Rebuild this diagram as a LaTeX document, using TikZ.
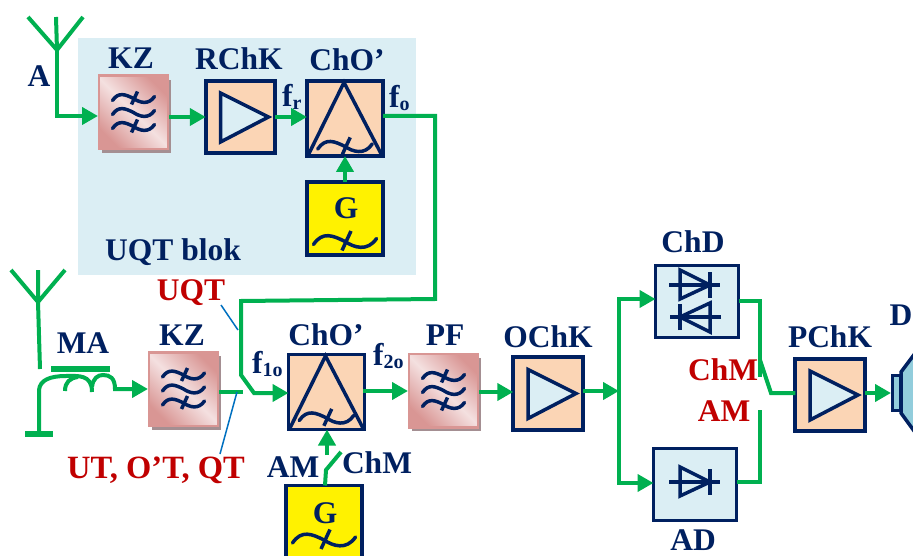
\documentclass[tikz,border=0pt]{standalone}
\usepackage{fontspec}
\setmainfont{Liberation Serif}
\usetikzlibrary{arrows.meta}
\definecolor{navy}{HTML}{002060}
\definecolor{wiregreen}{HTML}{00B050}
\definecolor{paleblue}{HTML}{DBEEF4}
\definecolor{peach}{HTML}{FBD5B5}
\definecolor{rose}{HTML}{D99694}
\definecolor{rosepale}{HTML}{F4E0E0}
\definecolor{shadegrey}{HTML}{A48F92}
\definecolor{redlbl}{HTML}{C00000}
\definecolor{leadblue}{HTML}{0070C0}
\definecolor{cone}{HTML}{92CDDC}

\newcommand{\wavesym}[3]{%
  \begin{scope}[shift={(#1)},shift={(0,#2)},scale=#3]
    \draw[symb, line cap=round] (-21,2) .. controls (-15,-7) and (-8,-4) .. (0,0) .. controls (6,4) and (15,7) .. (21,-2);
  \end{scope}}
\newcommand{\tickwave}[3]{%
  \wavesym{#1}{#2}{#3}
  \begin{scope}[shift={(#1)},shift={(0,#2)},scale=#3]
    \draw[symb] (4,-7) -- (-2,6);
  \end{scope}}
\newcommand{\ampsym}[1]{\draw[symb, fill=paleblue] ([shift={(-20,-24)}]#1.center) -- ([shift={(-20,25)}]#1.center) -- ([shift={(28,0)}]#1.center) -- cycle;}
\newcommand{\mixsym}[1]{\draw[symb] ([shift={(-37,37)}]#1.center) -- ([shift={(-1,-36)}]#1.center) -- ([shift={(37,37)}]#1.center);}
\newcommand{\filtersym}[1]{%
  \tickwave{#1}{-14}{1}
  \wavesym{#1}{0}{1}
  \tickwave{#1}{14}{1}}
\newcommand{\diodesym}[3]{%
  \begin{scope}[shift={(#1,#2)},rotate=#3]
    \draw[symb] (-26,0) -- (25,0);
    \draw[symb] (-15,-15) -- (-15,14) -- (15,0) -- cycle;
    \draw[symb] (15,-13) -- (15,13);
  \end{scope}}

\begin{document}
\begin{tikzpicture}[x=1pt, y=-1pt,
    symb/.style={draw=navy, line width=3.5pt},
    box/.style={draw=navy, line width=3.7pt, outer sep=0pt, inner sep=0pt, minimum width=69.5pt, minimum height=72.5pt},
    amp/.style={box, fill=peach},
    mix/.style={box, fill=peach, minimum width=76pt, minimum height=75pt},
    gen/.style={box, fill=yellow, minimum width=76pt, minimum height=73pt},
    det/.style={box, fill=paleblue, minimum width=83pt, minimum height=72pt},
    kz/.style={draw=rose, line width=2.5pt, outer sep=1pt, minimum width=69pt, minimum height=73.5pt, inner sep=0pt,
        preaction={fill=shadegrey, draw=none, transform canvas={shift={(3pt,-4pt)}}},
        top color=rose, bottom color=rose, middle color=rosepale, shading angle=-45},
    lbl/.style={font=\fontsize{31.5}{33}\selectfont\bfseries, text=navy, inner sep=0pt},
    red/.style={lbl, text=redlbl},
    sub/.style={lbl, anchor=base west},
    wire/.style={draw=wiregreen, line width=4pt},
    arr/.style={wire, -{Triangle[length=16pt,width=17pt]}},
    lead/.style={draw=leadblue, line width=1.5pt}
]
\clip (0,0) rectangle (913,556);
\fill[paleblue] (78,38) rectangle (416,275);

% upper block
\node[kz] (kza) at (133.5,112.5) {};
\node[amp] (rchk) at (240.5,117) {};
\node[mix] (choa) at (345,118.5) {};
\node[gen] (gena) at (345,218.5) {};
\node[lbl] at (131,58) {KZ};
\node[lbl] at (239,59) {RChK};
\node[lbl] at (347,60) {ChO’};
\node[lbl] at (39,76) {A};
\node[lbl] at (346,208) {G};
\node[lbl] at (173,252) {UQT blok};
\node[sub] at (282,107) {f\raisebox{-3pt}{\fontsize{20}{20}\selectfont r}};
\node[sub] at (389,108) {f\raisebox{-3pt}{\fontsize{20}{20}\selectfont o}};

% lower chain
\node[kz] (kzb) at (183.5,389) {};
\node[mix] (chob) at (326.5,392) {};
\node[kz] (pf) at (443.5,390.5) {};
\node[amp] (ochk) at (548,393.5) {};
\node[det] (chd) at (697,301.5) {};
\node[det] (ad) at (695,484.5) {};
\node[amp] (pchk) at (830,395) {};
\node[gen] (genb) at (324,522) {};
\node[lbl] at (83,343) {MA};
\node[lbl] at (182,335) {KZ};
\node[lbl] at (326,335) {ChO’};
\node[lbl] at (445,335) {PF};
\node[lbl] at (548,337) {OChK};
\node[lbl] at (693,242) {ChD};
\node[lbl] at (693,540) {AD};
\node[lbl] at (830,337) {PChK};
\node[lbl] at (901,315) {D};
\node[lbl] at (325,513) {G};
\node[lbl] at (293,467) {AM};
\node[lbl] at (377,463) {ChM};
\node[sub] at (252,373) {f\raisebox{-3pt}{\fontsize{20}{20}\selectfont 1o}};
\node[sub] at (373,365) {f\raisebox{-3pt}{\fontsize{20}{20}\selectfont 2o}};
\node[red] (uqt) at (191,293) {UQT};
\node[red, font=\fontsize{32.5}{34}\selectfont\bfseries] (ut) at (156,470) {UT, O’T, QT};
\node[red] at (723,370) {ChM};
\node[red] at (724,411) {AM};

% symbols in the boxes
\filtersym{kza.center}
\filtersym{kzb.center}
\filtersym{pf.center}
\ampsym{rchk}
\ampsym{ochk}
\ampsym{pchk}
\mixsym{choa}
\mixsym{chob}
\tickwave{choa.center}{28}{1.3}
\tickwave{chob.center}{26}{1.3}
\tickwave{gena.center}{23}{1.5}
\tickwave{genb.center}{18}{1.5}
\diodesym{695}{285}{0}
\diodesym{695}{317}{180}
\diodesym{695}{482}{0}

% speaker
\draw[symb, fill=cone] (892.5,375.5) rectangle (901,410.5);
\draw[symb, fill=cone] (901,372) -- (925,340) -- (925,446) -- (901,413) -- cycle;

% aerials
\coordinate (anta) at (57,50);
\coordinate (antb) at (38,302);
\draw[wire] (28,17) -- (anta) -- (83,17);
\draw[wire] (56,17) -- (anta);
\draw[wire] (11,270) -- (antb) -- (65,270);
\draw[wire] (38,270) -- (antb) -- (40,369);
\draw[arr] (anta) -- (57,116) -- (kza.west |- 0,116);

% upper connectors
\draw[arr] (kza.east |- rchk.west) -- (rchk.west);
\draw[arr] (rchk.east) -- (choa.west |- rchk.east);
\draw[arr] (gena.north) -- (choa.south);
\coordinate (bendb) at (241,375);
\coordinate (bendc) at (254,393);
\draw[arr] (choa.east |- 0,116) -- (435,116) -- (435,299) -- (241,301) -- (bendb) -- (bendc) -- (chob.west |- bendc);

% magnetic antenna
\coordinate (gnd) at (39,434);
\draw[wire, line width=6pt] (51,369) -- (110,369);
\draw[wire, line width=6pt] (25,434) -- (53,434);
\draw[wire] (gnd) -- (39,390) .. controls (40,380) and (50,376) .. (66,376) .. controls (78,376) and (92,374) .. (92,392);
\draw[wire] (65,391) .. controls (65,382) and (70,378) .. (78,377);
\draw[arr] (92,387) .. controls (93,378) and (98,375) .. (103,375) .. controls (110,375) and (115,378) .. (115,389) -- (kzb.west |- 0,389);

% lower connectors
\draw[wire] (kzb.east |- 0,392) -- (243,392);
\draw[arr] (363,391) -- (pf.west |- 0,391);
\draw[arr] (pf.east |- 0,392) -- (ochk.west |- 0,392);
\coordinate (fork) at (619,391);
\draw[arr] (ochk.east |- fork) -- (fork);
\draw[arr] (fork) -- (619,299) -- (chd.west |- 0,299);
\draw[arr] (fork) -- (619,483) -- (ad.west |- 0,483);
\draw[wire] (chd.east |- 0,301) -- (760,301) -- (760,377);
\draw[wire] (760,360) -- (771,393) -- (pchk.west |- 0,393);
\draw[wire] (ad.east |- 0,482) -- (760,482) -- (760,410);
\draw[arr] (pchk.east |- 0,393) -- (891,393);
\coordinate (swb) at (326,470);
\draw[arr] (327,455) -- (chob.south -| 327,0);
\draw[wire] (genb.north -| 325,0) -- (swb) -- (341,452);

% pointers
\draw[lead] (221,305) -- (238,330);
\draw[lead] (237,392) -- (220,454);
\end{tikzpicture}
\end{document}
